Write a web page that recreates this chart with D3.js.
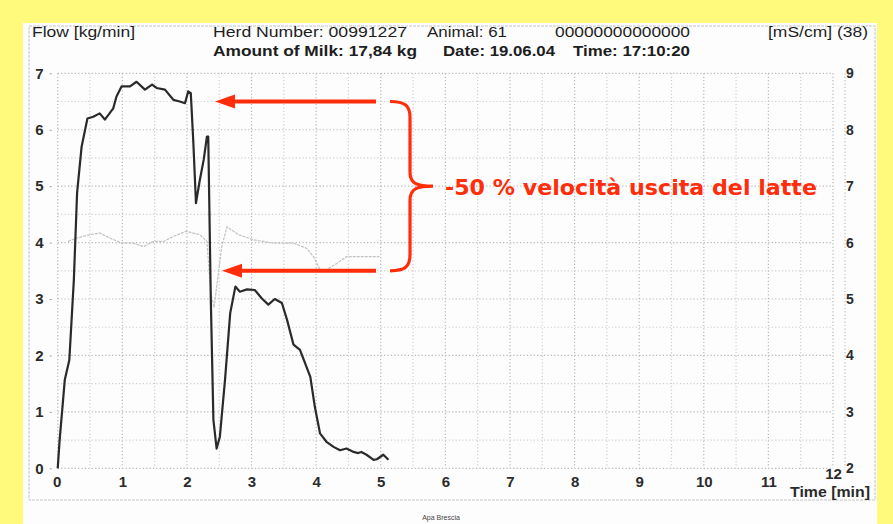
<!DOCTYPE html>
<html>
<head>
<meta charset="utf-8">
<script src="https://cdn.jsdelivr.net/npm/d3@7"></script>
<style>
  body { margin: 0; background: #fff97c; }
  svg { display: block; }
</style>
</head>
<body>
<svg id="chart"></svg>
<script>
// flow curve [kg/min]
var flowTime = [0, 0.03, 0.11, 0.18, 0.25, 0.30, 0.37, 0.46, 0.55, 0.65, 0.73, 0.86, 0.91, 0.99, 1.12, 1.22, 1.35, 1.46, 1.53, 1.66, 1.79, 1.89, 1.97, 2.02, 2.06, 2.10, 2.14, 2.20, 2.26, 2.31, 2.33, 2.37, 2.41, 2.46, 2.51, 2.59, 2.67, 2.75, 2.82, 2.93, 3.05, 3.16, 3.26, 3.36, 3.47, 3.55, 3.65, 3.75, 3.83, 3.91, 3.98, 4.06, 4.16, 4.27, 4.37, 4.47, 4.58, 4.65, 4.70, 4.78, 4.89, 4.94, 5.04, 5.12];
var flowValue = [0, 0.5, 1.57, 1.92, 3.34, 4.88, 5.70, 6.20, 6.23, 6.29, 6.18, 6.38, 6.59, 6.77, 6.77, 6.85, 6.71, 6.80, 6.74, 6.71, 6.53, 6.50, 6.47, 6.68, 6.65, 5.76, 4.70, 5.11, 5.47, 5.88, 5.88, 2.98, 0.86, 0.35, 0.56, 1.57, 2.75, 3.22, 3.13, 3.17, 3.16, 3.01, 2.90, 3.00, 2.93, 2.63, 2.19, 2.10, 1.86, 1.62, 1.09, 0.62, 0.47, 0.38, 0.32, 0.35, 0.29, 0.27, 0.29, 0.24, 0.15, 0.16, 0.24, 0.15];

// conductivity curve [mS/cm], right axis
var condTime = [0.16, 0.29, 0.50, 0.65, 0.81, 0.99, 1.17, 1.33, 1.48, 1.64, 1.79, 1.99, 2.20, 2.31, 2.37, 2.42, 2.47, 2.54, 2.62, 2.80, 3.03, 3.34, 3.65, 3.85, 3.96, 4.06, 4.16, 4.32, 4.47, 4.67, 4.98];
var condValue = [6.02, 6.08, 6.14, 6.17, 6.08, 5.99, 5.99, 5.93, 6.02, 6.02, 6.11, 6.20, 6.14, 6.02, 5.10, 4.85, 5.30, 5.93, 6.28, 6.14, 6.05, 5.99, 5.99, 5.90, 5.75, 5.52, 5.52, 5.63, 5.75, 5.75, 5.75];

var xTicks = [0, 1, 2, 3, 4, 5, 6, 7, 8, 9, 10, 11, 12];
var yTicks = [0, 1, 2, 3, 4, 5, 6, 7];
var y2Ticks = [2, 3, 4, 5, 6, 7, 8, 9];

var W = 893, H = 524;
var svg = d3.select("#chart").attr("width", W).attr("height", H);

// yellow slide + white sheet
svg.append("rect").attr("width", W).attr("height", H).attr("fill", "#fff97c");
svg.append("rect").attr("x", 23).attr("y", 23).attr("width", 854).attr("height", 501).attr("fill", "#fdfdfd");
svg.append("rect").attr("x", 29).attr("y", 26).attr("width", 846).attr("height", 474)
    .attr("fill", "none").attr("stroke", "#c4c4c4").attr("stroke-dasharray", "3,1");

const x = d3.scaleLinear().domain([0, 12]).range([57.7, 833]);
const y = d3.scaleLinear().domain([0, 7]).range([468.3, 73.3]);
const y2 = d3.scaleLinear().domain([2, 9]).range([468.3, 73.3]);

/** dotted grid every half unit */
var gridX = d3.range(0, 12.01, 0.5), gridY = d3.range(0, 7.01, 0.5);
svg.append("g").selectAll("line").data(gridX).join("line")
    .attr("x1", d => x(d)).attr("x2", d => x(d))
    .attr("y1", y(7)).attr("y2", y(0))
    .attr("stroke", d => d % 1 === 0 ? "#b8b8b8" : "#cfcfcf")
    .attr("stroke-width", 1.2)
    .attr("stroke-dasharray", "1.2,2.2");
svg.append("g").selectAll("line").data(gridY).join("line")
    .attr("x1", x(0)).attr("x2", x(12))
    .attr("y1", d => y(d)).attr("y2", d => y(d))
    .attr("stroke", d => d % 1 === 0 ? "#b8b8b8" : "#cfcfcf")
    .attr("stroke-width", 1.2)
    .attr("stroke-dasharray", "1.2,2.2");
// right hand axis line
svg.append("line").attr("x1", 845).attr("x2", 845).attr("y1", y(7)).attr("y2", y(0))
    .attr("stroke", "#bdbdbd").attr("stroke-dasharray", "1.2,2.2").attr("stroke-width", 1.2);

var tickFont = "'Liberation Sans', Arial, sans-serif";

/** axes: labels only, the grid already carries the lines */
var gL = svg.append("g").attr("transform", `translate(${x(0) - 6},0)`)
    .call(d3.axisLeft(y).tickValues(yTicks).tickSize(2).tickFormat(d3.format("d")));
var gB = svg.append("g").attr("transform", `translate(0,${y(0) + 4})`)
    .call(d3.axisBottom(x).tickValues(xTicks).tickSize(0).tickPadding(4).tickFormat(d3.format("d")));
var gR = svg.append("g").attr("transform", "translate(845,0)")
    .call(d3.axisRight(y2).tickValues(y2Ticks).tickSize(0).tickPadding(0).tickFormat(d3.format("d")));
[gL, gB, gR].forEach(function (g) {
    g.select(".domain").remove();
    g.selectAll("line").attr("stroke", "#999");
    g.selectAll("text").attr("fill", "#2b2b2b").attr("font-family", tickFont)
        .attr("font-size", 15).attr("font-weight", "bold");
});
gL.selectAll("text").attr("dx", "-3");
gR.selectAll("text").attr("font-size", 14).attr("dx", "1");
gB.selectAll(".tick").filter(d => d === 0).select("text").attr("dx", "-1");
gB.selectAll(".tick").filter(d => d === 12).select("text").attr("dy", "0.2em");

/** conductivity, thin light grey */
var condLine = d3.line().curve(d3.curveLinear)
    .x((d, i) => x(condTime[i])).y(d => y2(d));
svg.append("path").datum(condValue).attr("d", condLine)
    .attr("fill", "none").attr("stroke", "#c2c2c2").attr("stroke-width", 1.2)
    .attr("stroke-dasharray", "3,1");

/** milk flow, heavy black */
var flowLine = d3.line().curve(d3.curveLinear)
    .x((d, i) => x(flowTime[i])).y(d => y(d));
svg.append("path").datum(flowValue).attr("d", flowLine)
    .attr("fill", "none").attr("stroke", "#2a2a2a").attr("stroke-width", 2.2)
    .attr("stroke-linejoin", "round");

/** header texts */
var header = [
    { t: "Flow [kg/min]", x: 32, y: 37, w: 103, b: false },
    { t: "Herd Number: 00991227", x: 213, y: 37, w: 194, b: false },
    { t: "Animal: 61", x: 427, y: 37, w: 80, b: false },
    { t: "00000000000000", x: 555, y: 37, w: 135, b: false },
    { t: "[mS/cm] (38)", x: 768, y: 37, w: 100, b: false },
    { t: "Amount of Milk: 17,84 kg", x: 213, y: 56, w: 204, b: true },
    { t: "Date: 19.06.04", x: 443, y: 56, w: 112, b: true },
    { t: "Time: 17:10:20", x: 573, y: 56, w: 117, b: true }
];
svg.append("g").selectAll("text").data(header).join("text")
    .attr("x", d => d.x).attr("y", d => d.y)
    .attr("textLength", d => d.w).attr("lengthAdjust", "spacingAndGlyphs")
    .attr("font-family", tickFont).attr("font-size", 14)
    .attr("font-weight", d => d.b ? "bold" : "normal")
    .attr("fill", "#1e1e1e").text(d => d.t);

svg.append("text").attr("x", 790).attr("y", 497).attr("textLength", 80).attr("lengthAdjust", "spacingAndGlyphs")
    .attr("font-family", tickFont).attr("font-size", 15).attr("font-weight", "bold")
    .attr("fill", "#2b2b2b").text("Time [min]");
svg.append("text").attr("x", 441).attr("y", 520).attr("text-anchor", "middle")
    .attr("font-family", tickFont).attr("font-size", 7).attr("fill", "#444").text("Apa Brescia");

/** red annotation: two arrows, a brace and the label */
var red = "#ff2d0a";
var arrows = [{ from: 376, to: 215, v: 6.5 }, { from: 376, to: 222, v: 3.5 }];
var ag = svg.append("g");
arrows.forEach(function (a) {
    var yy = y(a.v);
    ag.append("line").attr("x1", a.from).attr("x2", a.to + 16).attr("y1", yy).attr("y2", yy)
        .attr("stroke", red).attr("stroke-width", 4);
    ag.append("path").attr("d", `M${a.to},${yy} L${a.to + 20},${yy - 7} L${a.to + 20},${yy + 7} Z`)
        .attr("fill", red);
});
var yt = y(6.5), yb = y(3.5), ym = (yt + yb) / 2;
ag.append("path")
    .attr("d", `M390,${yt} C405,${yt} 410,${yt + 4} 410,${yt + 16} L410,${ym - 14} C410,${ym - 2} 418,${ym} 433,${ym}`
        + ` C418,${ym} 410,${ym + 2} 410,${ym + 14} L410,${yb - 16} C410,${yb - 4} 405,${yb} 390,${yb}`)
    .attr("fill", "none").attr("stroke", red).attr("stroke-width", 3.2);
svg.append("text").attr("x", 445).attr("y", 195)
    .attr("textLength", 372).attr("lengthAdjust", "spacingAndGlyphs")
    .attr("font-family", "'DejaVu Sans', sans-serif").attr("font-size", 22).attr("font-weight", "bold")
    .attr("fill", red).text("-50 % velocità uscita del latte");
</script>
</body>
</html>
